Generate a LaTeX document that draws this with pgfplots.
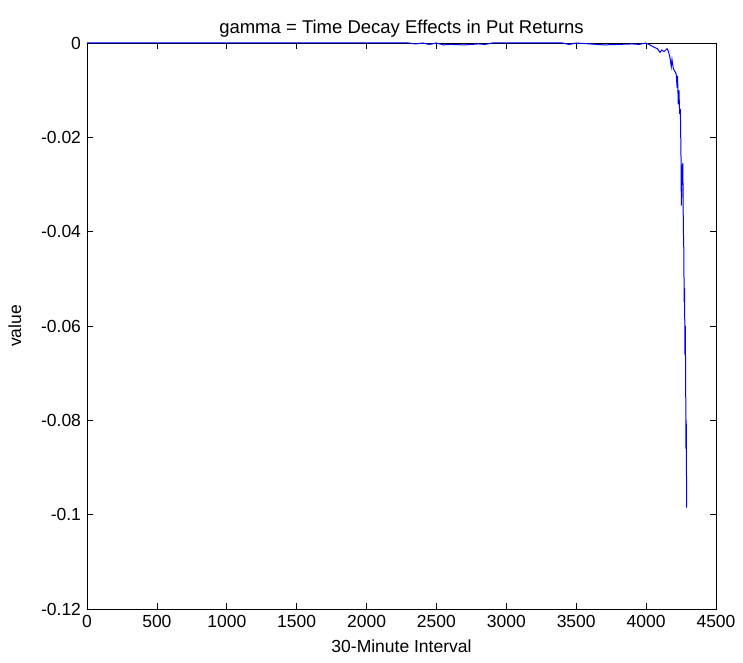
\documentclass[border=0pt]{standalone}
\usepackage{pgfplots}
\pgfplotsset{compat=1.18}
\usepackage{fontspec}
\setmainfont{Liberation Sans}
\begin{document}
\begin{tikzpicture}
\fontsize{17.5}{20}\selectfont
\begin{axis}[
  at={(0pt,0pt)}, anchor=south west,
  scale only axis, width=629pt, height=566pt,
  xmin=0, xmax=4500, ymin=-0.12, ymax=0,
  xtick={0,500,...,4500},
  ytick={-0.12,-0.1,-0.08,-0.06,-0.04,-0.02,0},
  scaled x ticks=false, scaled y ticks=false,
  xticklabel style={/pgf/number format/fixed, /pgf/number format/1000 sep={}},
  yticklabel style={/pgf/number format/fixed, /pgf/number format/precision=2},
  /pgf/number format/assume math mode=true,
  tick align=inside, tick pos=both,
  major tick length=6pt,
  axis line style={black, line width=0.8pt},
  every tick/.style={black, line width=0.6pt},
  title={gamma = Time Decay Effects in Put Returns},
  title style={font=\fontsize{18.5}{21}\selectfont, yshift=-6pt},
  xlabel={30-Minute Interval},
  ylabel={value},
  xlabel style={yshift=-1pt},
  ylabel style={yshift=8pt},
  tick label style={font=\fontsize{17.5}{20}\selectfont},
  label style={font=\fontsize{17.5}{20}\selectfont},
]
\addplot[blue, line width=1pt, mark=none] coordinates {
(0,0) (2300,0) (2350,-0.0002) (2400,0) (2450,-0.0003) (2500,0.0000) (2550,-0.0004)
(2600,-0.0003) (2700,-0.0004) (2800,-0.0002) (2850,-0.0003) (2900,0) (3400,0)
(3450,-0.0003) (3500,0) (3600,-0.0002) (3700,-0.0004) (3800,-0.0003) (3900,-0.0002)
(3950,-0.0003) (4000,0) (4020,-0.0003) (4050,-0.0008) (4080,-0.0012) (4100,-0.0020)
(4110,-0.0015) (4130,-0.0018) (4150,-0.0012) (4160,-0.0018) (4170,-0.0030)
(4180,-0.0050) (4185,-0.0035) (4195,-0.0055) (4205,-0.0060) (4215,-0.0065)
(4222,-0.0095) (4225,-0.0070) (4230,-0.0130) (4235,-0.0100) (4240,-0.0150)
(4245,-0.0140) (4250,-0.0250) (4252,-0.0345) (4255,-0.0300) (4260,-0.0260)
(4263,-0.0255) (4265,-0.0350) (4268,-0.0420) (4270,-0.0440) (4272,-0.0550)
(4275,-0.0520) (4278,-0.0660) (4280,-0.0600) (4283,-0.0710) (4285,-0.0860)
(4287,-0.0800) (4290,-0.0985)
};
\end{axis}
\path (-87pt,-53pt) rectangle (656pt,609pt);
\end{tikzpicture}
\end{document}
